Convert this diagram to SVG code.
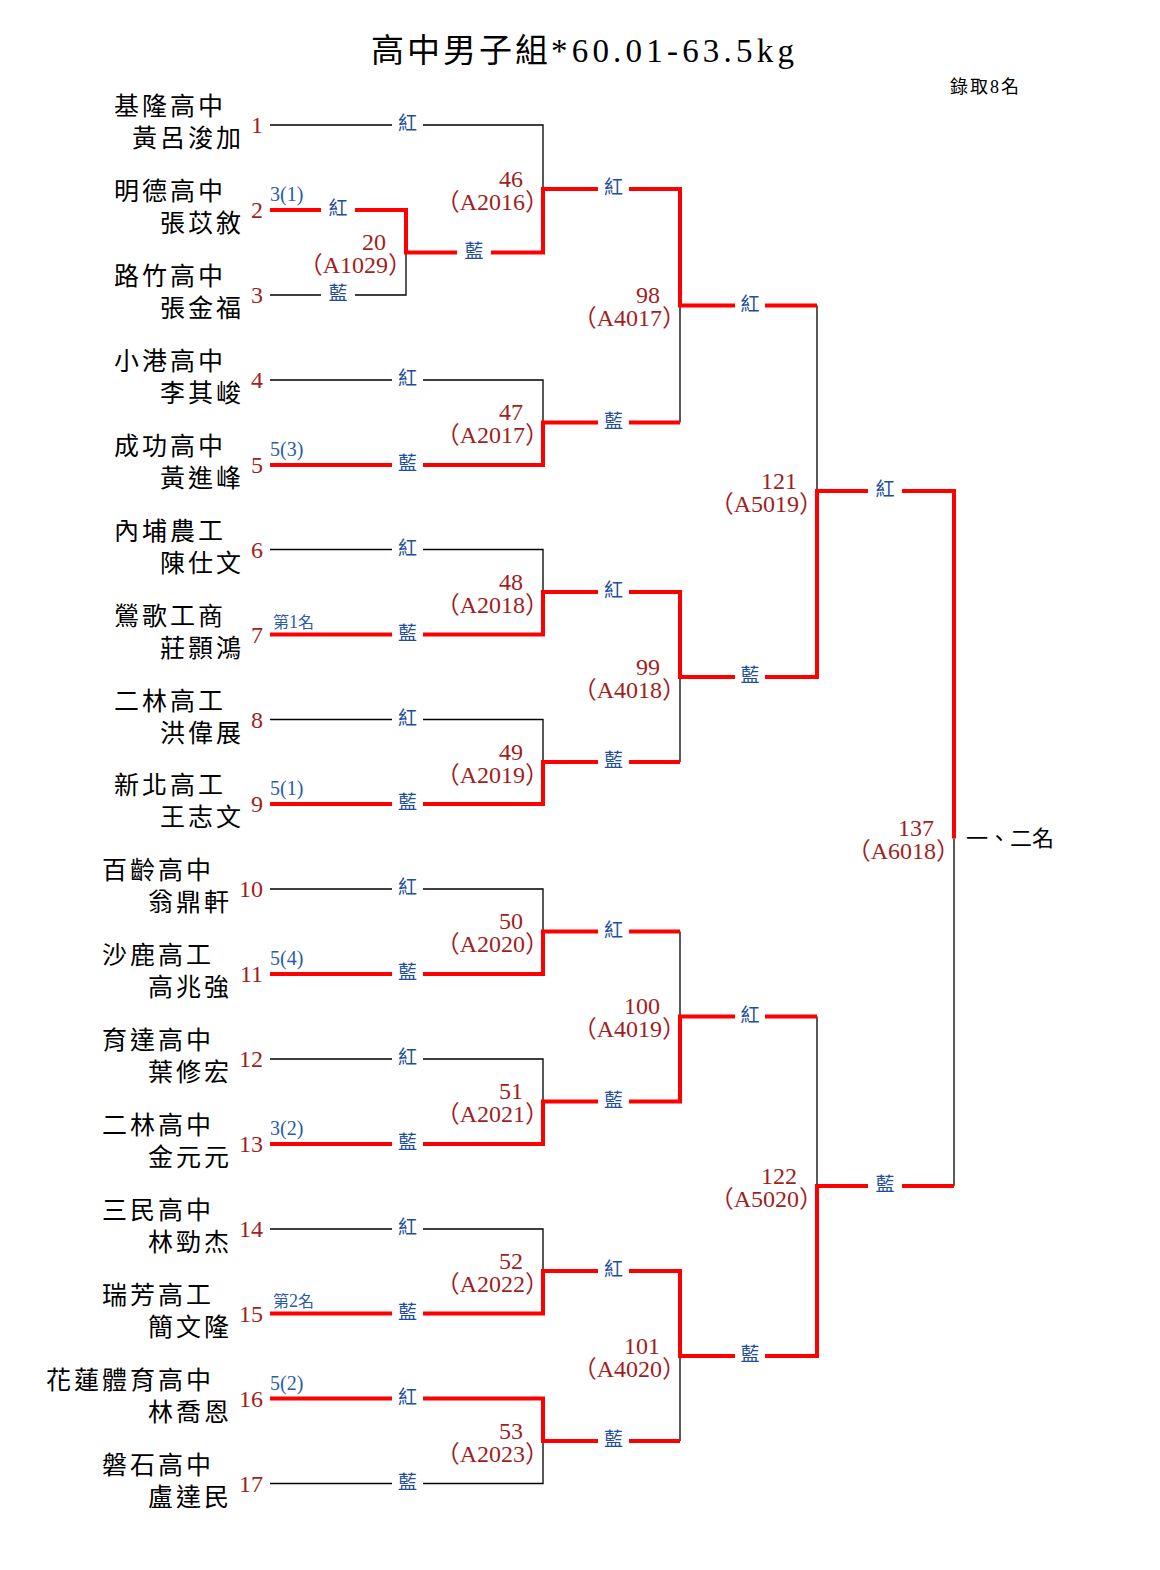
<svg xmlns="http://www.w3.org/2000/svg" width="1160" height="1570" viewBox="0 0 1160 1570">
<style>
.blk{stroke:#000;stroke-width:1.3;fill:none}
.red{stroke:#FF0000;stroke-width:4;fill:none;stroke-linejoin:miter}
.nm{font-family:"Noto Sans CJK TC","Noto Sans CJK SC",sans-serif;font-size:25px;letter-spacing:3px;text-anchor:end;fill:#000}
.no{font-family:"Liberation Serif",serif;font-size:24px;fill:#A11E1E;text-anchor:end}
.mn{font-family:"Liberation Serif","Noto Sans CJK TC",serif;font-size:24px;fill:#A11E1E;text-anchor:end}
.cl{font-family:"Noto Sans CJK TC",sans-serif;font-size:19px;fill:#1F4E9E;text-anchor:middle}
.sd{font-family:"Liberation Serif","Noto Sans CJK TC",serif;font-size:20px;fill:#2A5CAA}
.sd2{font-family:"Noto Sans CJK TC",sans-serif;font-size:16px;fill:#2A5CAA}
.tt{font-family:"Liberation Serif","Noto Sans CJK TC",serif;font-size:33px;letter-spacing:3px;fill:#000}
.sm{font-family:"Liberation Serif","Noto Sans CJK TC",serif;font-size:18px;letter-spacing:2px;fill:#000}
.rk{font-family:"Noto Sans CJK TC",sans-serif;font-size:22px;fill:#000}
</style>
<rect width="1160" height="1570" fill="#fff"/>
<text class="tt" x="371" y="62">高中男子組<tspan letter-spacing="4.2">*60.01-63.5kg</tspan></text>
<text class="sm" x="950" y="93">錄取8名</text>

<g id="connectors">
<g id="lines-black">
<path class="blk" d="M270 125H392M423 125H543V189"/>
<path class="blk" d="M270 295H321M355 295H406V252.5"/>
<path class="blk" d="M270 380H392M423 380H543V422.5"/>
<path class="blk" d="M680 305.5V422.5"/>
<path class="blk" d="M270 549.5H392M423 549.5H543V592"/>
<path class="blk" d="M270 719.5H392M423 719.5H543V762"/>
<path class="blk" d="M680 677V762"/>
<path class="blk" d="M817 305.5V491"/>
<path class="blk" d="M270 889H392M423 889H543V931.5"/>
<path class="blk" d="M270 1059H392M423 1059H543V1101.5"/>
<path class="blk" d="M680 931.5V1016.5"/>
<path class="blk" d="M270 1229H392M423 1229H543V1271"/>
<path class="blk" d="M270 1483.5H392M423 1483.5H543V1441"/>
<path class="blk" d="M680 1356V1441"/>
<path class="blk" d="M817 1016.5V1186"/>
<path class="blk" d="M954 838.5V1186"/>
</g>
<g id="lines-red">
<path class="red" d="M270 210H321M355 210H406V252.5H457M491 252.5H543V189H598M629 189H680V305.5H735M765 305.5H817"/>
<path class="red" d="M270 465H392M423 465H543V422.5H598M629 422.5H680"/>
<path class="red" d="M270 634.5H392M423 634.5H543V592H598M629 592H680V677H735M765 677H817V491H868M902 491H954V838.5"/>
<path class="red" d="M270 804H392M423 804H543V762H598M629 762H680"/>
<path class="red" d="M270 974H392M423 974H543V931.5H598M629 931.5H680"/>
<path class="red" d="M270 1144H392M423 1144H543V1101.5H598M629 1101.5H680V1016.5H735M765 1016.5H817"/>
<path class="red" d="M270 1313.5H392M423 1313.5H543V1271H598M629 1271H680V1356H735M765 1356H817V1186H868M902 1186H954"/>
<path class="red" d="M270 1398.5H392M423 1398.5H543V1441H598M629 1441H680"/>
</g>
<g id="corner-labels">
<text class="cl" x="407.5" y="130">紅</text>
<text class="cl" x="338" y="215">紅</text>
<text class="cl" x="338" y="300">藍</text>
<text class="cl" x="474" y="257.5">藍</text>
<text class="cl" x="407.5" y="385">紅</text>
<text class="cl" x="407.5" y="470">藍</text>
<text class="cl" x="407.5" y="554.5">紅</text>
<text class="cl" x="407.5" y="639.5">藍</text>
<text class="cl" x="407.5" y="724.5">紅</text>
<text class="cl" x="407.5" y="809">藍</text>
<text class="cl" x="407.5" y="894">紅</text>
<text class="cl" x="407.5" y="979">藍</text>
<text class="cl" x="407.5" y="1064">紅</text>
<text class="cl" x="407.5" y="1149">藍</text>
<text class="cl" x="407.5" y="1234">紅</text>
<text class="cl" x="407.5" y="1318.5">藍</text>
<text class="cl" x="407.5" y="1403.5">紅</text>
<text class="cl" x="407.5" y="1488.5">藍</text>
<text class="cl" x="613.5" y="194">紅</text>
<text class="cl" x="613.5" y="427.5">藍</text>
<text class="cl" x="613.5" y="597">紅</text>
<text class="cl" x="613.5" y="767">藍</text>
<text class="cl" x="613.5" y="936.5">紅</text>
<text class="cl" x="613.5" y="1106.5">藍</text>
<text class="cl" x="613.5" y="1276">紅</text>
<text class="cl" x="613.5" y="1446">藍</text>
<text class="cl" x="750" y="310.5">紅</text>
<text class="cl" x="750" y="682">藍</text>
<text class="cl" x="750" y="1021.5">紅</text>
<text class="cl" x="750" y="1361">藍</text>
<text class="cl" x="885" y="496">紅</text>
<text class="cl" x="885" y="1191">藍</text>
</g>
</g>

<g id="players">
<g id="p1"><text class="nm" x="226" y="115">基隆高中</text><text class="nm" x="244" y="147">黃呂浚加</text><text class="no" x="263" y="133">1</text></g>
<g id="p2"><text class="nm" x="226" y="200">明德高中</text><text class="nm" x="244" y="232">張苡敘</text><text class="no" x="263" y="218">2</text><text class="sd" x="270" y="201">3(1)</text></g>
<g id="p3"><text class="nm" x="226" y="285">路竹高中</text><text class="nm" x="244" y="317">張金福</text><text class="no" x="263" y="303">3</text></g>
<g id="p4"><text class="nm" x="226" y="370">小港高中</text><text class="nm" x="244" y="402">李其峻</text><text class="no" x="263" y="388">4</text></g>
<g id="p5"><text class="nm" x="226" y="455">成功高中</text><text class="nm" x="244" y="487">黃進峰</text><text class="no" x="263" y="473">5</text><text class="sd" x="270" y="456">5(3)</text></g>
<g id="p6"><text class="nm" x="226" y="539.5">內埔農工</text><text class="nm" x="244" y="571.5">陳仕文</text><text class="no" x="263" y="557.5">6</text></g>
<g id="p7"><text class="nm" x="226" y="624.5">鶯歌工商</text><text class="nm" x="244" y="656.5">莊顥鴻</text><text class="no" x="263" y="642.5">7</text><text class="sd2" x="273" y="628">第<tspan font-family="Liberation Serif" font-size="18">1</tspan>名</text></g>
<g id="p8"><text class="nm" x="226" y="709.5">二林高工</text><text class="nm" x="244" y="741.5">洪偉展</text><text class="no" x="263" y="727.5">8</text></g>
<g id="p9"><text class="nm" x="226" y="794">新北高工</text><text class="nm" x="244" y="826">王志文</text><text class="no" x="263" y="812">9</text><text class="sd" x="270" y="795">5(1)</text></g>
<g id="p10"><text class="nm" x="214" y="879">百齡高中</text><text class="nm" x="232" y="911">翁鼎軒</text><text class="no" x="263" y="897">10</text></g>
<g id="p11"><text class="nm" x="214" y="964">沙鹿高工</text><text class="nm" x="232" y="996">高兆強</text><text class="no" x="263" y="982">11</text><text class="sd" x="270" y="965">5(4)</text></g>
<g id="p12"><text class="nm" x="214" y="1049">育達高中</text><text class="nm" x="232" y="1081">葉修宏</text><text class="no" x="263" y="1067">12</text></g>
<g id="p13"><text class="nm" x="214" y="1134">二林高中</text><text class="nm" x="232" y="1166">金元元</text><text class="no" x="263" y="1152">13</text><text class="sd" x="270" y="1135">3(2)</text></g>
<g id="p14"><text class="nm" x="214" y="1219">三民高中</text><text class="nm" x="232" y="1251">林勁杰</text><text class="no" x="263" y="1237">14</text></g>
<g id="p15"><text class="nm" x="214" y="1303.5">瑞芳高工</text><text class="nm" x="232" y="1335.5">簡文隆</text><text class="no" x="263" y="1321.5">15</text><text class="sd2" x="273" y="1307">第<tspan font-family="Liberation Serif" font-size="18">2</tspan>名</text></g>
<g id="p16"><text class="nm" x="214" y="1388.5">花蓮體育高中</text><text class="nm" x="232" y="1420.5">林喬恩</text><text class="no" x="263" y="1406.5">16</text><text class="sd" x="270" y="1389.5">5(2)</text></g>
<g id="p17"><text class="nm" x="214" y="1473.5">磐石高中</text><text class="nm" x="232" y="1505.5">盧達民</text><text class="no" x="263" y="1491.5">17</text></g>
</g>

<g id="matches">
<g id="m20"><text class="mn" x="386" y="250">20</text><text class="mn" x="412" y="273">（A1029）</text></g>
<g id="m46"><text class="mn" x="523" y="186.5">46</text><text class="mn" x="549" y="209.5">（A2016）</text></g>
<g id="m47"><text class="mn" x="523" y="420">47</text><text class="mn" x="549" y="443">（A2017）</text></g>
<g id="m48"><text class="mn" x="523" y="589.5">48</text><text class="mn" x="549" y="612.5">（A2018）</text></g>
<g id="m49"><text class="mn" x="523" y="759.5">49</text><text class="mn" x="549" y="782.5">（A2019）</text></g>
<g id="m50"><text class="mn" x="523" y="929">50</text><text class="mn" x="549" y="952">（A2020）</text></g>
<g id="m51"><text class="mn" x="523" y="1099">51</text><text class="mn" x="549" y="1122">（A2021）</text></g>
<g id="m52"><text class="mn" x="523" y="1268.5">52</text><text class="mn" x="549" y="1291.5">（A2022）</text></g>
<g id="m53"><text class="mn" x="523" y="1438.5">53</text><text class="mn" x="549" y="1461.5">（A2023）</text></g>
<g id="m98"><text class="mn" x="660" y="303">98</text><text class="mn" x="686" y="326">（A4017）</text></g>
<g id="m99"><text class="mn" x="660" y="674.5">99</text><text class="mn" x="686" y="697.5">（A4018）</text></g>
<g id="m100"><text class="mn" x="660" y="1014">100</text><text class="mn" x="686" y="1037">（A4019）</text></g>
<g id="m101"><text class="mn" x="660" y="1353.5">101</text><text class="mn" x="686" y="1376.5">（A4020）</text></g>
<g id="m121"><text class="mn" x="797" y="488.5">121</text><text class="mn" x="823" y="511.5">（A5019）</text></g>
<g id="m122"><text class="mn" x="797" y="1183.5">122</text><text class="mn" x="823" y="1206.5">（A5020）</text></g>
<g id="m137"><text class="mn" x="934" y="836">137</text><text class="mn" x="960" y="859">（A6018）</text></g>
<g id="rank"><text class="rk" x="966" y="846">一、二名</text></g>
</g>
</svg>
